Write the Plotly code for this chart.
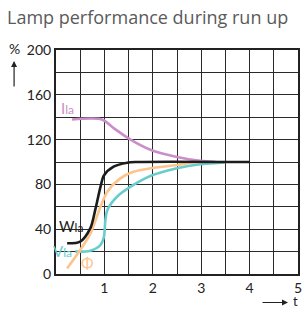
import plotly.graph_objects as go

# Data
t_ila = [0.33, 0.95, 1.2, 1.54, 1.95, 2.5, 2.98, 3.3]
v_ila = [138, 138, 130, 120, 111, 104.5, 101, 100]

t_wla = [0.23, 0.5, 0.71, 0.81, 0.92, 0.99, 1.19, 1.47, 1.67, 4.0]
v_wla = [27.5, 29, 41, 57, 78, 88, 95.8, 99.4, 100, 100]

t_phi = [0.23, 0.5, 0.71, 0.92, 1.06, 1.33, 1.6, 1.95, 2.5, 2.77, 3.0]
v_phi = [5, 21.4, 36, 60, 73.5, 85.4, 91.3, 94.4, 97.3, 99.4, 100]

t_vla = [0.4, 0.71, 0.92, 0.99, 1.02, 1.06, 1.26, 1.6, 1.95, 2.5, 2.98, 3.46, 3.5]
v_vla = [20, 20.8, 26, 33, 48, 57, 69, 79.5, 87.5, 94.4, 98, 99.6, 100]

x_ticks = [1, 2, 3, 4, 5]
y_ticks = [0, 40, 80, 120, 160, 200]

C_ILA = "#c98fc8"
C_WLA = "#1c1c1c"
C_PHI = "#fdc48c"
C_VLA = "#6acccb"

fig = go.Figure()
for tt, vv, c in [(t_ila, v_ila, C_ILA), (t_vla, v_vla, C_VLA), (t_phi, v_phi, C_PHI), (t_wla, v_wla, C_WLA)]:
    fig.add_trace(go.Scatter(x=tt, y=vv, mode="lines", line=dict(color=c, width=2.6, shape="spline", smoothing=0.8),
                             showlegend=False, hoverinfo="skip", cliponaxis=False))

W, H = 302, 309
PL, PR, PT, PB = 55.5, 298, 50, 274  # plot area in page pixels
L, T = PL, PT
R, B = W - PR, H - PB
pw, ph = PR - PL, PB - PT

def px(x):
    return (x - PL) / pw

def py(y):
    return (PB - y) / ph

FONT = "Lato"
GRID = "#2a2a2a"
fig.update_layout(
    width=W, height=H,
    margin=dict(l=L, r=R, t=T, b=B, autoexpand=False),
    plot_bgcolor="white", paper_bgcolor="white",
    font=dict(family=FONT, color="#222222"),
    xaxis=dict(range=[0, 5], tickvals=x_ticks, ticktext=[str(v) for v in x_ticks],
               showgrid=True, gridcolor=GRID, gridwidth=1, automargin=False, ticklabeloverflow="allow",
               minor=dict(dtick=0.5, showgrid=True, gridcolor=GRID, gridwidth=1),
               showline=True, linecolor="#222222", linewidth=2, mirror=True,
               zeroline=False, ticks="", ticklen=0, tickfont=dict(size=14, color="#222222")),
    yaxis=dict(range=[0, 200], tickvals=y_ticks, ticktext=[str(v) for v in y_ticks],
               showgrid=True, gridcolor=GRID, gridwidth=1, automargin=False, ticklabeloverflow="allow",
               minor=dict(dtick=20, showgrid=True, gridcolor=GRID, gridwidth=1),
               showline=True, linecolor="#222222", linewidth=2, mirror=True,
               zeroline=False, ticks="", ticklen=0, tickfont=dict(size=14, color="#222222")),
)

ann = []
ann.append(dict(text="Lamp performance during run up", xref="paper", yref="paper",
                x=px(4), y=py(17), xanchor="left", yanchor="middle", showarrow=False,
                font=dict(size=18, color="#5a5a5a", family="Open Sans")))
ann.append(dict(text="%", xref="paper", yref="paper", x=px(13.5), y=py(49), xanchor="center", yanchor="middle",
                showarrow=False, font=dict(size=14, color="#222222")))
ann.append(dict(text="", xref="paper", yref="paper", x=px(13.5), y=py(61), ax=0, ay=27,
                showarrow=True, arrowhead=2, arrowsize=1, arrowwidth=1.2, arrowcolor="#222222"))
ann.append(dict(text="t", xref="paper", yref="paper", x=px(295), y=py(301), xanchor="center", yanchor="middle",
                showarrow=False, font=dict(size=13, color="#222222")))
ann.append(dict(text="", xref="paper", yref="paper", x=px(288), y=py(302.5), ax=-27, ay=0,
                showarrow=True, arrowhead=2, arrowsize=1, arrowwidth=1.2, arrowcolor="#222222"))

def lab(main, x, y, color, size=15):
    return dict(text=main, xref="paper", yref="paper", x=px(x), y=py(y), xanchor="left", yanchor="middle",
                showarrow=False, font=dict(size=size, color=color, family=FONT))

sub = "<span style='font-size:12px'>la</span>"
ann.append(lab("I" + sub, 59, 108, C_ILA))
ann.append(lab("W" + sub, 57, 226, C_WLA))
ann.append(lab("V" + sub, 50, 251, C_VLA))
ann.append(lab("Φ", 79, 263, C_PHI))

fig.update_layout(annotations=ann)
fig.write_html("out.html",
               config={"displayModeBar": False, "staticPlot": True},
               post_script="document.body.style.margin='0';document.body.style.overflow='hidden';")
